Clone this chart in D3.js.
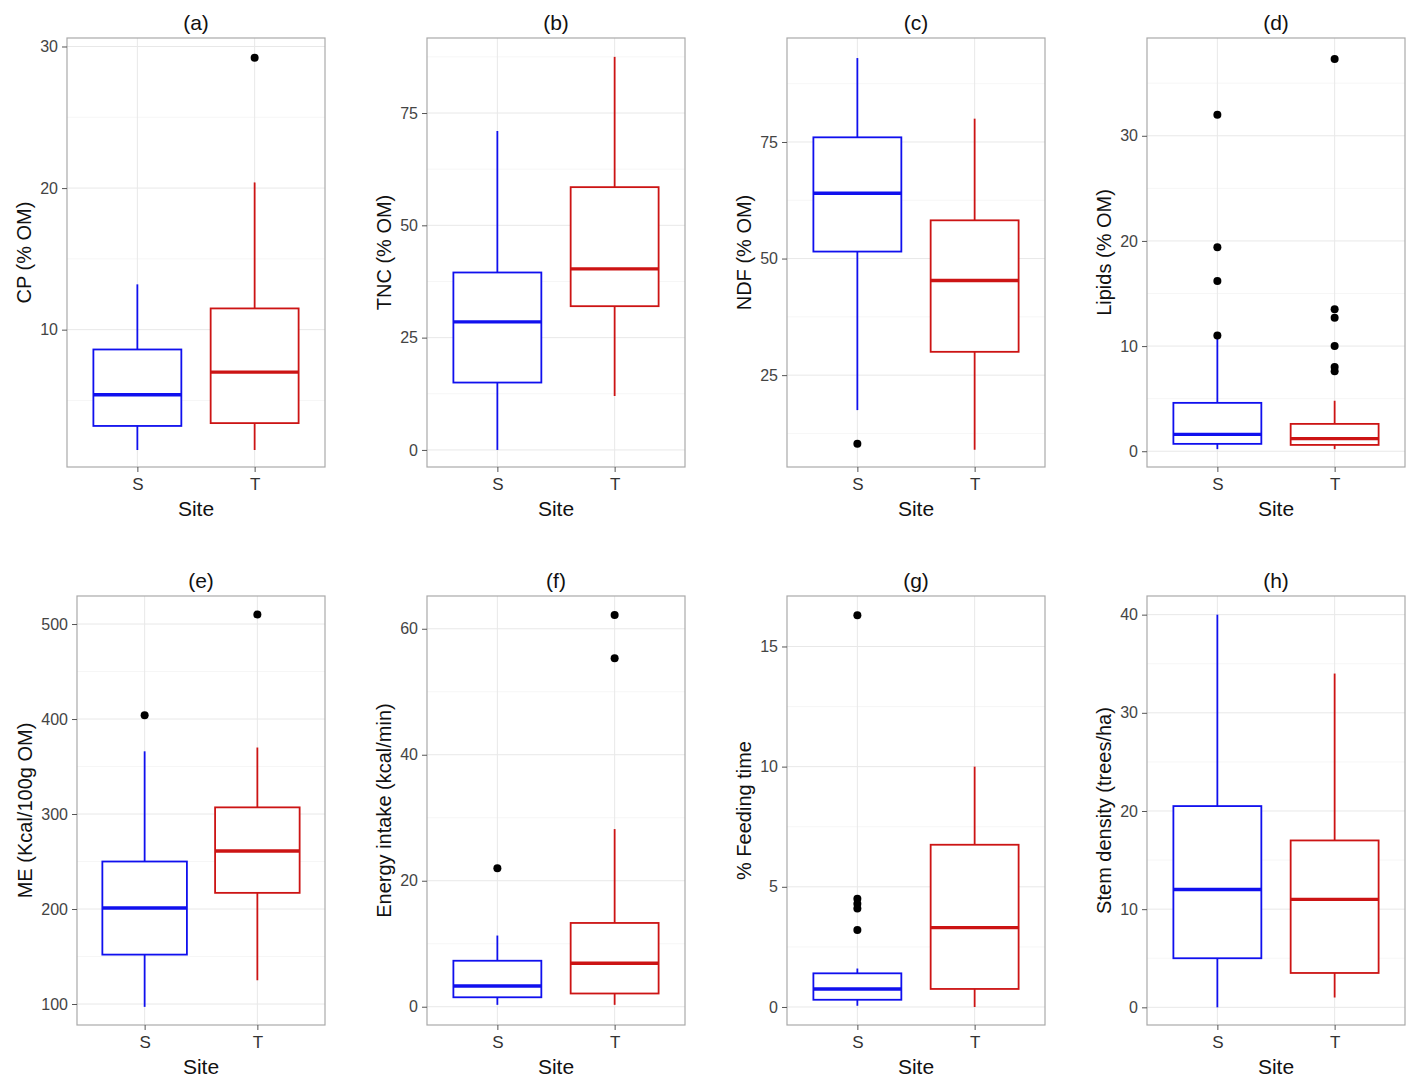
<!DOCTYPE html>
<html><head><meta charset="utf-8">
<script src="https://cdn.jsdelivr.net/npm/d3@7"></script>
<style>body{margin:0;background:#fff}text{font-family:"Liberation Sans",Arial,sans-serif}</style>
</head><body><svg id="c" width="1411" height="1076"></svg>
<script>
// data: per panel [lowWhisker, q1, median, q3, highWhisker] for sites S and T
var sites = ["S", "T"];
var titles = ["(a)", "(b)", "(c)", "(d)", "(e)", "(f)", "(g)", "(h)"];
var yLabels = ["CP (% OM)", "TNC (% OM)", "NDF (% OM)", "Lipids (% OM)",
  "ME (Kcal/100g OM)", "Energy intake (kcal/min)", "% Feeding time", "Stem density (trees/ha)"];
var statsS = [[1.5, 3.2, 5.4, 8.6, 13.2], [0, 15, 28.5, 39.5, 71], [17.5, 51.5, 64, 76, 93], [0.2, 0.7, 1.6, 4.6, 11],
  [97, 152, 201, 250, 366], [0.3, 1.5, 3.3, 7.3, 11.3], [0.05, 0.3, 0.75, 1.4, 1.6], [0, 5, 12, 20.5, 40]];
var statsT = [[1.5, 3.4, 7.0, 11.5, 20.4], [12, 32, 40.3, 58.5, 87.5], [9, 30, 45.3, 58.2, 80], [0.2, 0.6, 1.2, 2.6, 4.8],
  [125, 217, 261, 307, 370], [0.3, 2.1, 6.9, 13.3, 28.2], [0, 0.75, 3.3, 6.75, 10], [1, 3.5, 11, 17, 34]];
var outS = [[], [], [10.3], [32, 19.4, 16.2, 11], [404], [22], [3.2, 4.1, 4.3, 4.5, 16.3], []];
var outT = [[29.2], [], [], [37.3, 13.5, 12.7, 10, 8, 7.6], [510], [55.3, 62.2], [], []];
var yDomains = [[0.3, 30.6], [-3.8, 91.7], [5.3, 97.3], [-1.5, 39.3], [77.9, 529.5], [-2.9, 65.2], [-0.75, 17.1], [-1.8, 41.9]];
var yTicks = [[10, 20, 30], [0, 25, 50, 75], [25, 50, 75], [0, 10, 20, 30], [100, 200, 300, 400, 500], [0, 20, 40, 60], [0, 5, 10, 15], [0, 10, 20, 30, 40]];
var yMinor = [[5, 15, 25], [12.5, 37.5, 62.5, 87.5], [12.5, 37.5, 62.5, 87.5], [5, 15, 25, 35], [150, 250, 350, 450], [10, 30, 50], [2.5, 7.5, 12.5], [5, 15, 25, 35]];
var colors = {S: "#1010ee", T: "#cc1414"};

var lefts = [67, 427, 787, 1147, 77, 427, 787, 1147];
var svg = d3.select("#c");

titles.forEach(function (t, i) {
  var row = Math.floor(i / 4);
  var x0 = lefts[i], x1 = [325, 685, 1045, 1405][i % 4];
  var y0 = row ? 596 : 38, y1 = row ? 1025 : 467;
  var g = svg.append("g");
  var x = d3.scaleLinear().domain([0.4, 2.6]).range([x0, x1]);
  var y = d3.scaleLinear().domain(yDomains[i]).range([y1, y0]);
  g.selectAll(".mn").data(yMinor[i].filter(function (v) { return v > yDomains[i][0] && v < yDomains[i][1]; }))
    .enter().append("line").attr("x1", x0).attr("x2", x1).attr("y1", y).attr("y2", y)
    .attr("stroke", "#f4f4f4").attr("stroke-width", 0.8);
  g.selectAll(".mj").data(yTicks[i]).enter().append("line").attr("x1", x0).attr("x2", x1)
    .attr("y1", y).attr("y2", y).attr("stroke", "#e8e8e8").attr("stroke-width", 1);
  g.selectAll(".vx").data([1, 2]).enter().append("line").attr("x1", x).attr("x2", x)
    .attr("y1", y0).attr("y2", y1).attr("stroke", "#e8e8e8").attr("stroke-width", 1);
  g.append("rect").attr("x", x0).attr("y", y0).attr("width", x1 - x0).attr("height", y1 - y0)
    .attr("fill", "none").attr("stroke", "#aaa").attr("stroke-width", 1.2);

  var ax = g.append("g").attr("transform", "translate(" + x0 + ",0)")
    .call(d3.axisLeft(y).tickValues(yTicks[i]).tickSize(5).tickPadding(4));
  ax.attr("font-size", null).attr("font-family", null);
  ax.select(".domain").remove();
  ax.selectAll("line").attr("stroke", "#555");
  ax.selectAll("text").attr("fill", "#444").style("font-size", "16px");
  var bx = g.append("g").attr("transform", "translate(0," + y1 + ")")
    .call(d3.axisBottom(x).tickValues([1, 2]).tickFormat(function (d) { return sites[d - 1]; }).tickSize(5).tickPadding(6));
  bx.attr("font-size", null).attr("font-family", null);
  bx.select(".domain").remove();
  bx.selectAll("line").attr("stroke", "#555");
  bx.selectAll("text").attr("fill", "#333").style("font-size", "17px");

  var tw = d3.max(ax.selectAll("text").nodes(), function (n) { return n.getBBox().width; });
  g.append("text").attr("transform", "translate(" + (x0 - tw - 18) + "," + ((y0 + y1) / 2) + ") rotate(-90)")
    .attr("text-anchor", "middle").style("font-size", "20px").attr("fill", "#111").text(yLabels[i]);
  g.append("text").attr("x", (x0 + x1) / 2).attr("y", y1 + 49).attr("text-anchor", "middle")
    .style("font-size", "21px").attr("fill", "#111").text("Site");
  g.append("text").attr("x", (x0 + x1) / 2).attr("y", y0 - 8).attr("text-anchor", "middle")
    .style("font-size", "21px").attr("fill", "#111").text(t);

  [[statsS[i], outS[i], "S", 1], [statsT[i], outT[i], "T", 2]].forEach(function (b) {
    var s = b[0], c = colors[b[2]], cx = x(b[3]), hw = (x(1.375) - x(1));
    g.append("line").attr("x1", cx).attr("x2", cx).attr("y1", y(s[0])).attr("y2", y(s[1])).attr("stroke", c).attr("stroke-width", 1.8);
    g.append("line").attr("x1", cx).attr("x2", cx).attr("y1", y(s[3])).attr("y2", y(s[4])).attr("stroke", c).attr("stroke-width", 1.8);
    g.append("rect").attr("x", cx - hw).attr("width", 2 * hw).attr("y", y(s[3])).attr("height", y(s[1]) - y(s[3]))
      .attr("fill", "#fff").attr("stroke", c).attr("stroke-width", 1.8);
    g.append("line").attr("x1", cx - hw).attr("x2", cx + hw).attr("y1", y(s[2])).attr("y2", y(s[2])).attr("stroke", c).attr("stroke-width", 3.4);
    g.selectAll(null).data(b[1]).enter().append("circle").attr("cx", cx).attr("cy", y).attr("r", 4).attr("fill", "#000");
  });
});
</script></body></html>
